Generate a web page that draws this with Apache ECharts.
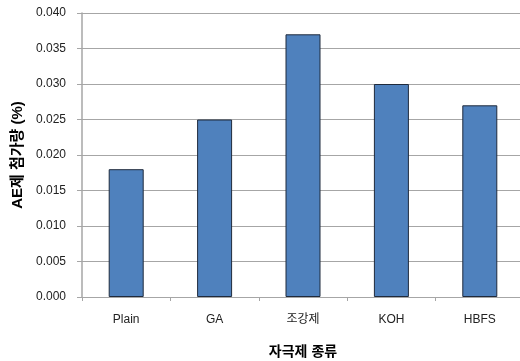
<!DOCTYPE html>
<html>
<head>
<meta charset="utf-8">
<script src="https://cdn.jsdelivr.net/npm/echarts@6/dist/echarts.min.js"></script>
<style>
  html, body { margin: 0; padding: 0; background: #fff; }
  #chart { width: 520px; height: 361px; }
</style>
</head>
<body>
<div id="chart"></div>
<script>
// AE agent dosage by activator type
const categories = ['Plain', 'GA', '조강제', 'KOH', 'HBFS'];
const dosage = [0.018, 0.025, 0.037, 0.030, 0.027];
const yTicks = { min: 0, max: 0.04, interval: 0.005 };

const fontFamily = '"Liberation Sans", Arial, "Noto Sans CJK KR", sans-serif';

const chart = echarts.init(document.getElementById('chart'), null, { renderer: 'canvas' });
chart.setOption({
  animation: false,
  backgroundColor: '#ffffff',
  grid: { left: 82, right: -4, top: 13, bottom: 64, containLabel: false, outerBoundsMode: 'none' },
  xAxis: {
    type: 'category',
    data: categories,
    name: '자극제 종류',
    nameLocation: 'middle',
    nameGap: 48,
    nameTextStyle: { fontFamily, fontSize: 14, fontWeight: 'bold', color: '#000' },
    axisLine: { lineStyle: { color: '#a6a6a6', width: 1 } },
    axisTick: { show: true, length: 4, alignWithLabel: false, lineStyle: { color: '#a6a6a6' } },
    axisLabel: { fontFamily, fontSize: 12, color: '#222', margin: 17 }
  },
  yAxis: {
    type: 'value',
    min: yTicks.min,
    max: yTicks.max,
    interval: yTicks.interval,
    name: 'AE제 첨가량 (%)',
    nameLocation: 'middle',
    nameGap: 46,
    nameRotate: 90,
    nameTextStyle: { fontFamily, fontSize: 15, fontWeight: 'bold', color: '#000' },
    axisLine: { show: true, lineStyle: { color: '#a6a6a6', width: 1.5 } },
    axisTick: { show: true, inside: false, length: 5, lineStyle: { color: '#a6a6a6' } },
    axisLabel: {
      fontFamily, fontSize: 12, color: '#222', margin: 16,
      formatter: v => v.toFixed(3)
    },
    splitLine: { show: true, lineStyle: { color: '#a6a6a6', width: 1.2 } }
  },
  series: [{
    type: 'bar',
    data: dosage,
    barWidth: 35,
    itemStyle: { color: '#4f81bd', borderColor: '#1f2a3c', borderWidth: 1 }
  }]
});
</script>
</body>
</html>
